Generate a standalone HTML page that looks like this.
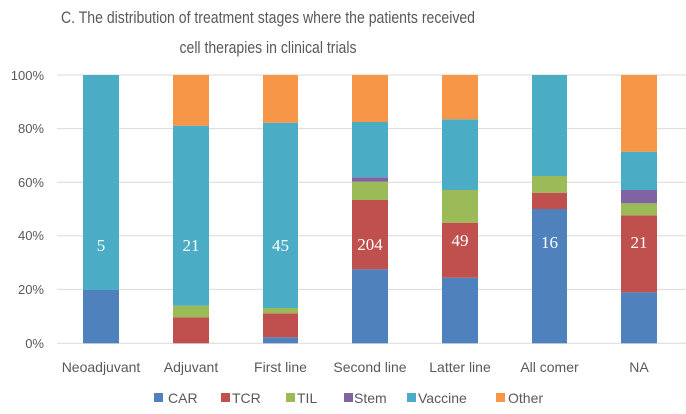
<!DOCTYPE html>
<html><head><meta charset="utf-8"><style>body{margin:0;background:#fff}svg{display:block}</style></head>
<body>
<svg width="686" height="414" xmlns="http://www.w3.org/2000/svg" font-family="Liberation Sans, sans-serif">
<rect width="686" height="414" fill="#fff"/>
<text x="268" y="23" font-size="17" fill="#595959" text-anchor="middle" textLength="414" lengthAdjust="spacingAndGlyphs">C. The distribution of treatment stages where the patients received</text>
<text x="268" y="53" font-size="17" fill="#595959" text-anchor="middle" textLength="177" lengthAdjust="spacingAndGlyphs">cell therapies in clinical trials</text>
<g stroke="#d9d9d9" stroke-width="1">
<line x1="57" x2="686" y1="75" y2="75"/><line x1="57" x2="686" y1="128.6" y2="128.6"/><line x1="57" x2="686" y1="182.2" y2="182.2"/><line x1="57" x2="686" y1="235.8" y2="235.8"/><line x1="57" x2="686" y1="289.4" y2="289.4"/><line x1="57" x2="686" y1="343.3" y2="343.3"/>
</g>
<g font-size="13" fill="#595959" text-anchor="end">
<text x="44" y="80">100%</text><text x="44" y="133">80%</text><text x="44" y="187">60%</text><text x="44" y="240">40%</text><text x="44" y="294">20%</text><text x="44" y="348">0%</text>
</g>
<!-- Neoadjuvant -->
<rect x="83" y="290" width="36" height="53.3" fill="#4f81bd"/>
<rect x="83" y="75" width="36" height="215" fill="#4bacc6"/>
<!-- Adjuvant -->
<rect x="173" y="317.3" width="36" height="26" fill="#c0504d"/>
<rect x="173" y="305.7" width="36" height="11.6" fill="#9bbb59"/>
<rect x="173" y="125.7" width="36" height="180" fill="#4bacc6"/>
<rect x="173" y="75" width="36" height="50.7" fill="#f79646"/>
<!-- First line -->
<rect x="263" y="337.3" width="35" height="6" fill="#4f81bd"/>
<rect x="263" y="313.3" width="35" height="24" fill="#c0504d"/>
<rect x="263" y="308" width="35" height="5.3" fill="#9bbb59"/>
<rect x="263" y="122.7" width="35" height="185.3" fill="#4bacc6"/>
<rect x="263" y="75" width="35" height="47.7" fill="#f79646"/>
<!-- Second line -->
<rect x="352" y="269.3" width="36" height="74" fill="#4f81bd"/>
<rect x="352" y="200" width="36" height="69.3" fill="#c0504d"/>
<rect x="352" y="181.7" width="36" height="18.3" fill="#9bbb59"/>
<rect x="352" y="177.3" width="36" height="4.4" fill="#8064a2"/>
<rect x="352" y="122" width="36" height="55.3" fill="#4bacc6"/>
<rect x="352" y="75" width="36" height="47" fill="#f79646"/>
<!-- Latter line -->
<rect x="442" y="277.7" width="36" height="65.6" fill="#4f81bd"/>
<rect x="442" y="222.7" width="36" height="55" fill="#c0504d"/>
<rect x="442" y="190" width="36" height="32.7" fill="#9bbb59"/>
<rect x="442" y="119.3" width="36" height="70.7" fill="#4bacc6"/>
<rect x="442" y="75" width="36" height="44.3" fill="#f79646"/>
<!-- All comer -->
<rect x="532" y="209" width="35" height="134.3" fill="#4f81bd"/>
<rect x="532" y="192.7" width="35" height="16.3" fill="#c0504d"/>
<rect x="532" y="176" width="35" height="16.7" fill="#9bbb59"/>
<rect x="532" y="75" width="35" height="101" fill="#4bacc6"/>
<!-- NA -->
<rect x="621" y="292.3" width="36" height="51" fill="#4f81bd"/>
<rect x="621" y="215.3" width="36" height="77" fill="#c0504d"/>
<rect x="621" y="203.3" width="36" height="12" fill="#9bbb59"/>
<rect x="621" y="190" width="36" height="13.3" fill="#8064a2"/>
<rect x="621" y="151.7" width="36" height="38.3" fill="#4bacc6"/>
<rect x="621" y="75" width="36" height="76.7" fill="#f79646"/>
<g font-family="Liberation Serif, serif" font-size="17" fill="#fff" text-anchor="middle">
<text x="101" y="251">5</text><text x="191" y="251">21</text><text x="280.5" y="251">45</text>
<text x="370" y="250">204</text><text x="460" y="246">49</text><text x="549.5" y="248">16</text><text x="639" y="248">21</text>
</g>
<g font-size="14" fill="#595959" text-anchor="middle">
<text x="101" y="372">Neoadjuvant</text><text x="191" y="372">Adjuvant</text><text x="280.5" y="372">First line</text>
<text x="370" y="372">Second line</text><text x="460" y="372">Latter line</text><text x="549.5" y="372">All comer</text><text x="639" y="372">NA</text>
</g>
<g font-size="14" fill="#595959">
<rect x="154" y="393" width="9" height="9" fill="#4f81bd"/><text x="168" y="403">CAR</text>
<rect x="221" y="393" width="9" height="9" fill="#c0504d"/><text x="232" y="403">TCR</text>
<rect x="286" y="393" width="9" height="9" fill="#9bbb59"/><text x="297" y="403">TIL</text>
<rect x="344" y="393" width="9" height="9" fill="#8064a2"/><text x="354" y="403">Stem</text>
<rect x="407" y="393" width="9" height="9" fill="#4bacc6"/><text x="418" y="403">Vaccine</text>
<rect x="496" y="393" width="9" height="9" fill="#f79646"/><text x="508" y="403">Other</text>
</g>
</svg>
</body></html>
